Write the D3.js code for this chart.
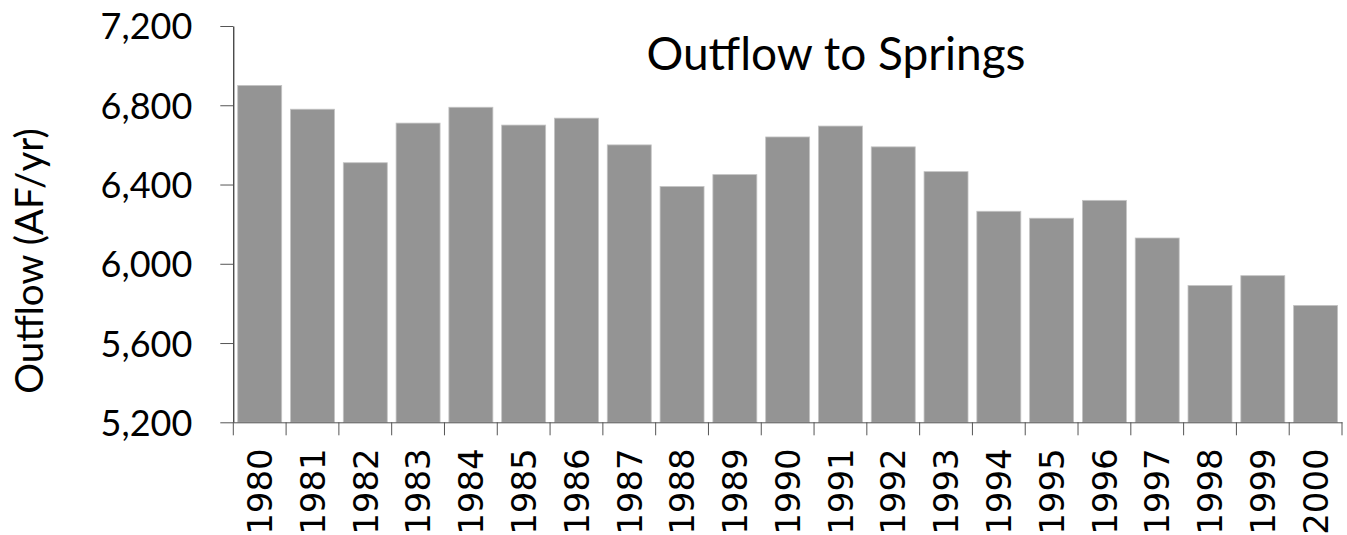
<!DOCTYPE html>
<html>
<head>
<meta charset="utf-8">
<script src="https://cdn.jsdelivr.net/npm/d3@7"></script>
<style>
  body { margin: 0; background: #fff; }
  .tick text { fill: #000; }
</style>
</head>
<body>
<script>
var years = ["1980", "1981", "1982", "1983", "1984", "1985", "1986", "1987", "1988", "1989", "1990",
             "1991", "1992", "1993", "1994", "1995", "1996", "1997", "1998", "1999", "2000"];
var outflow = [6900, 6780, 6510, 6710, 6790, 6700, 6735, 6600, 6390, 6450, 6640,
               6695, 6590, 6465, 6265, 6230, 6320, 6130, 5890, 5940, 5790];
var yTicks = [5200, 5600, 6000, 6400, 6800, 7200];

var title = "Outflow to Springs";
var yLabel = "Outflow (AF/yr)";

var W = 1347, H = 535;
var margin = {top: 26, right: 5, bottom: 113, left: 233.3};

var svg = d3.select("body").append("svg")
    .attr("width", W)
    .attr("height", H);

var x = d3.scaleBand()
    .domain(years)
    .range([margin.left, 1342])
    .paddingInner(0.167)
    .paddingOuter(0.0835);

var y = d3.scaleLinear()
    .domain([5200, 7200])
    .range([422.3, margin.top]);

// bars
svg.append("g").selectAll("rect")
    .data(years)
    .enter().append("rect")
    .attr("x", function(d) { return x(d); })
    .attr("y", function(d, i) { return y(outflow[i]); })
    .attr("width", x.bandwidth())
    .attr("height", function(d, i) { return y(5200) - y(outflow[i]); })
    .attr("fill", "#949494")
    .attr("stroke", "#c4c4c4")
    .attr("stroke-width", 0.8);

// y axis
var yAxis = d3.axisLeft(y)
    .tickValues(yTicks)
    .tickSize(13)
    .tickSizeOuter(0)
    .tickPadding(28)
    .tickFormat(d3.format(","));

svg.append("g")
    .attr("transform", "translate(" + margin.left + ",0)")
    .call(yAxis)
    .call(function(g) {
      g.selectAll("line").attr("stroke", "#555");
      g.select(".domain").attr("stroke", "#000");
      g.selectAll("text")
        .style("font-family", "Lato, 'Open Sans', sans-serif")
        .style("font-size", "36px")
        .attr("dy", "0.36em");
    });

// x axis: labels in band centres, ticks at band edges
var xAxis = d3.axisBottom(x)
    .tickSize(0)
    .tickSizeOuter(0)
    .tickPadding(0);

var gx = svg.append("g")
    .attr("transform", "translate(0," + y(5200) + ")")
    .call(xAxis);

gx.select(".domain").attr("stroke", "#555");

gx.selectAll(".tick text")
    .style("font-family", "'DejaVu Sans', Verdana, sans-serif")
    .style("font-size", "34px")
    .attr("text-anchor", "end")
    .attr("transform", "translate(0,26) rotate(-90)")
    .attr("x", 0)
    .attr("y", 0)
    .attr("dy", "0.36em");

var edges = years.map(function(d) { return x(d) - x.step() * x.paddingInner() / 2; });
edges.push(x(years[years.length - 1]) + x.bandwidth() + x.step() * x.paddingInner() / 2);

gx.selectAll(".edge")
    .data(edges)
    .enter().append("line")
    .attr("class", "edge")
    .attr("x1", function(d) { return d; })
    .attr("x2", function(d) { return d; })
    .attr("y1", 0)
    .attr("y2", 13)
    .attr("stroke", "#555");

// title
svg.append("text")
    .attr("x", 836)
    .attr("y", 70)
    .attr("text-anchor", "middle")
    .style("font-family", "Lato, 'Open Sans', sans-serif")
    .style("font-size", "46px")
    .text(title);

// y label
svg.append("text")
    .attr("transform", "translate(43,261) rotate(-90)")
    .attr("text-anchor", "middle")
    .style("font-family", "Lato, 'Open Sans', sans-serif")
    .style("font-size", "38.5px")
    .text(yLabel);
</script>
</body>
</html>
